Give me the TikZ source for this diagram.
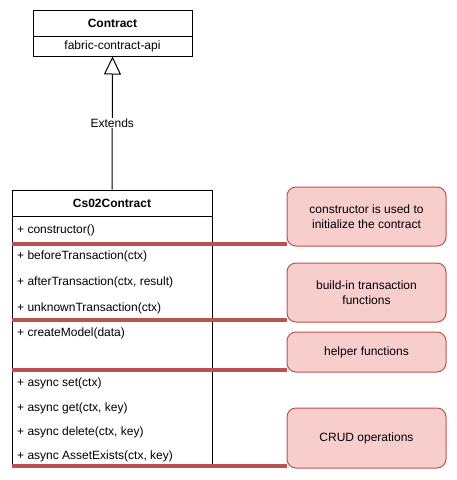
\documentclass[tikz,border=0pt]{standalone}
\usepackage{fontspec}
\setmainfont{Liberation Sans}
\usetikzlibrary{arrows.meta}
\definecolor{notefill}{HTML}{F8CECC}
\definecolor{noteline}{HTML}{B85450}

\begin{document}
\begin{tikzpicture}[x=1pt, y=-1pt]
    \tikzset{%
      cell/.style={rectangle, draw=black, line width=1pt, inner sep=0pt,
        minimum width=#1},
      head/.style={font=\bfseries},
      item/.style={anchor=west, inner sep=0pt},
      note/.style={rectangle, rounded corners=9pt, draw=noteline,
        fill=notefill, line width=1pt, minimum width=159pt,
        align=center, inner sep=2pt},
      sep/.style={noteline, line width=4pt},
      extends/.style={-{Triangle[open, length=18pt, width=17pt]},
        line width=1pt},
      lbl/.style={fill=white, inner sep=1pt},
    }
    \fontsize{12}{15}\selectfont
    \useasboundingbox (0,0) rectangle (457,480);
    % parent class
    \node[cell=159pt, minimum height=26pt, head] (Con) at (112.5,23) {Contract};
    \node[cell=159pt, minimum height=20pt] (ConApi) at (112.5,46) {fabric-contract-api};
    % child class
    \node[cell=200pt, minimum height=26pt, head] (Cs) at (112,203) {Cs02Contract};
    \node[cell=200pt, minimum height=250pt] (CsBody) at (112,341) {};
    \draw[extends] (Cs.north) -- node[lbl] (Ext) {Extends} (ConApi.south);
    % methods
    \node[item] (M1) at (17,230) {+ constructor()};
    \node[item] (M2) at (17,256) {+ beforeTransaction(ctx)};
    \node[item] (M3) at (17,282) {+ afterTransaction(ctx, result)};
    \node[item] (M4) at (17,308) {+ unknownTransaction(ctx)};
    \node[item] (M5) at (17,333) {+ createModel(data)};
    \node[item] (M6) at (17,383) {+ async set(ctx)};
    \node[item] (M7) at (17,408) {+ async get(ctx, key)};
    \node[item] (M8) at (17,432) {+ async delete(ctx, key)};
    \node[item] (M9) at (17,456) {+ async AssetExists(ctx, key)};
    % notes
    \node[note, minimum height=59pt] (N1) at (366.5,216.5) {constructor is used to\\initialize the contract};
    \node[note, minimum height=59pt] (N2) at (366.5,292.5) {build-in transaction\\functions};
    \node[note, minimum height=40pt] (N3) at (366.5,352) {helper functions};
    \node[note, minimum height=60pt] (N4) at (366.5,438) {CRUD operations};
    % separators
    \coordinate (S1) at (12,244);
    \coordinate (S2) at (12,320);
    \coordinate (S3) at (12,370);
    \coordinate (S4) at (12,466);
    \draw[sep] (S1) -- (S1 -| N1.west);
    \draw[sep] (S2) -- (S2 -| N2.west);
    \draw[sep] (S3) -- (S3 -| N3.west);
    \draw[sep] (S4) -- (S4 -| N4.west);
\end{tikzpicture}
\end{document}
